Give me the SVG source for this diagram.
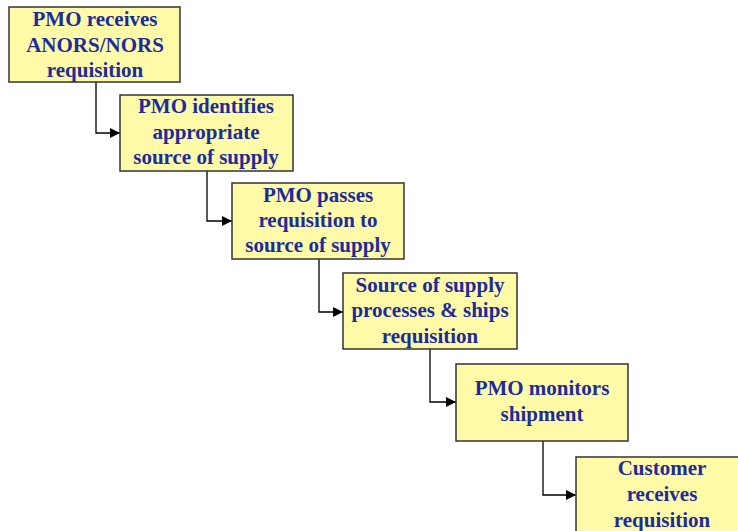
<svg xmlns="http://www.w3.org/2000/svg" width="738" height="531" viewBox="0 0 738 531">
<defs>
<marker id="arr" viewBox="0 0 10 10" refX="10" refY="5" markerWidth="10" markerHeight="10" markerUnits="userSpaceOnUse" orient="auto">
<path d="M0,0 L10,5 L0,10 Z" fill="#000"/>
</marker>
<style>
.box{fill:#fffaa8;stroke:#333;stroke-width:1.5}
.t{font-family:"Liberation Serif","Times New Roman",serif;font-weight:bold;font-size:21px;fill:#1c2c9c;text-anchor:middle}
.c{fill:none;stroke:#000;stroke-width:1.3;marker-end:url(#arr)}
</style>
</defs>
<rect width="738" height="531" fill="#fff"/>
<g id="connectors">
<path class="c" d="M96,82 V133 H120"/>
<path class="c" d="M207,171 V221 H232"/>
<path class="c" d="M319,259 V312 H343"/>
<path class="c" d="M430,349 V402 H456"/>
<path class="c" d="M543,441 V495 H576"/>
</g>
<g id="n1">
<rect class="box" x="9" y="7" width="171" height="75"/>
<text class="t" x="95" y="26">PMO receives</text>
<text class="t" x="95" y="52">ANORS/NORS</text>
<text class="t" x="95" y="77">requisition</text>
</g>
<g id="n2">
<rect class="box" x="120" y="95" width="173" height="76"/>
<text class="t" x="206" y="113">PMO identifies</text>
<text class="t" x="206" y="139">appropriate</text>
<text class="t" x="206" y="164">source of supply</text>
</g>
<g id="n3">
<rect class="box" x="232" y="183" width="172" height="76"/>
<text class="t" x="318" y="202">PMO passes</text>
<text class="t" x="318" y="227">requisition to</text>
<text class="t" x="318" y="252">source of supply</text>
</g>
<g id="n4">
<rect class="box" x="343" y="273" width="174" height="76"/>
<text class="t" x="430" y="292">Source of supply</text>
<text class="t" x="430" y="317">processes &amp; ships</text>
<text class="t" x="430" y="343">requisition</text>
</g>
<g id="n5">
<rect class="box" x="456" y="364" width="172" height="77"/>
<text class="t" x="542" y="395">PMO monitors</text>
<text class="t" x="542" y="421">shipment</text>
</g>
<g id="n6">
<rect class="box" x="576" y="457" width="172" height="78"/>
<text class="t" x="662" y="475">Customer</text>
<text class="t" x="662" y="501">receives</text>
<text class="t" x="662" y="527">requisition</text>
</g>
</svg>
